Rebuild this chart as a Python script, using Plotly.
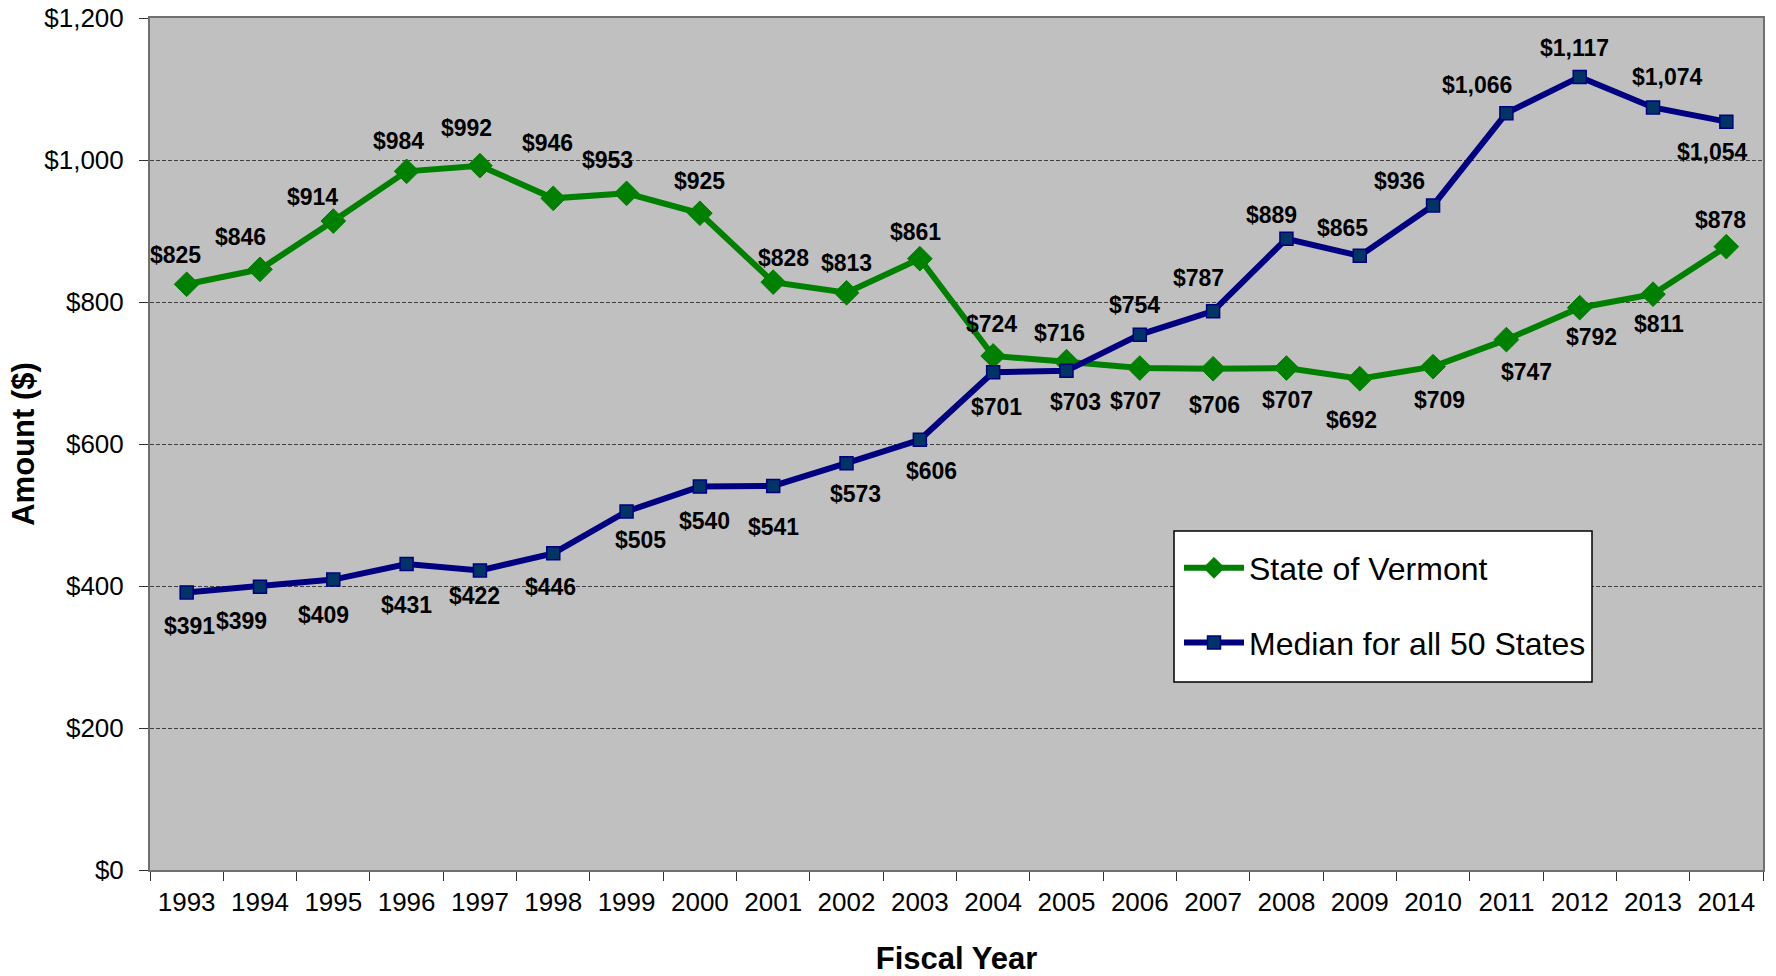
import plotly.graph_objects as go

years = [str(y) for y in range(1993, 2015)]
vermont = [825, 846, 914, 984, 992, 946, 953, 925, 828, 813, 861, 724, 716, 707, 706, 707, 692, 709, 747, 792, 811, 878]
median = [391, 399, 409, 431, 422, 446, 505, 540, 541, 573, 606, 701, 703, 754, 787, 889, 865, 936, 1066, 1117, 1074, 1054]

# label offsets in pixels (dx right, dy down)
v_dx = [-11, -19, -21, -8, -13, -6, -19, 0, 10, 0, -4, -2, -7, -4, 1, 1, -8, 6, 20, 12, 6, -6]
v_dy = [-29, -32, -24, -30, -38, -55, -33, -32, -24, -30, -27, -32, -29, 33, 36, 32, 41, 33, 32, 29, 30, -27]
m_dx = [3, -18, -10, 0, -5, -3, 14, 5, 0, 9, 12, 3, 9, -5, -15, -15, -17, -34, -29, -5, 14, -14]
m_dy = [34, 34, 35, 41, 26, 34, 29, 34, 41, 31, 31, 35, 31, -30, -33, -24, -28, -24, -28, -29, -30, 30]

FONT = "Liberation Sans, Arial, sans-serif"
GREEN = "#008000"
NAVY = "#000080"
PW = 1613  # plot width in px

fig = go.Figure()
fig.add_trace(go.Scatter(
    x=years, y=vermont, name="State of Vermont", mode="lines+markers",
    legendgroup="a",
    line=dict(color=GREEN, width=6),
    marker=dict(symbol="diamond", size=19, color=GREEN, line=dict(color=GREEN, width=1)),
))
fig.add_trace(go.Scatter(
    x=years, y=median, name="Median for all 50 States", mode="lines+markers",
    legendgroup="b",
    line=dict(color=NAVY, width=6),
    marker=dict(symbol="square", size=13, color="#003366", line=dict(color=NAVY, width=1.5)),
))

annotations = []
for vals, dxs, dys in ((vermont, v_dx, v_dy), (median, m_dx, m_dy)):
    for i, (v, dx, dy) in enumerate(zip(vals, dxs, dys)):
        annotations.append(dict(
            x=i, y=v, xref="x", yref="y", text="<b>$" + format(v, ",") + "</b>",
            showarrow=False, xanchor="center", yanchor="middle",
            xshift=dx, yshift=-dy,
            font=dict(family=FONT, size=23, color="black"),
        ))

fig.update_layout(
    width=1776, height=976,
    margin=dict(l=150, r=1776 - 150 - PW, t=18, b=106, autoexpand=False),
    paper_bgcolor="white",
    plot_bgcolor="#C0C0C0",
    font=dict(family=FONT, color="black"),
    showlegend=True,
    legend=dict(
        x=(1179 - 150) / PW, y=0.3104, xanchor="left", yanchor="middle",
        bgcolor="rgba(0,0,0,0)", borderwidth=0,
        font=dict(family=FONT, size=32, color="black"),
        itemwidth=60, tracegroupgap=30, traceorder="grouped",
    ),
    annotations=annotations,
    shapes=[dict(
        type="rect", xref="paper", yref="paper",
        x0=(1174 - 150) / PW, x1=(1592 - 150) / PW,
        y0=(870 - 682) / 852, y1=(870 - 531) / 852,
        fillcolor="white", line=dict(color="black", width=1.5), layer="above",
    )],
)

fig.update_xaxes(
    type="category", range=[-0.5, 21.5], automargin=False,
    tickson="boundaries", ticks="outside", ticklen=9, tickcolor="#333",
    showgrid=False, showline=True, linecolor="#707070", linewidth=2, mirror=True,
    tickfont=dict(family=FONT, size=26, color="black"),
    ticklabelstandoff=8, ticklabeloverflow="allow",
    title=dict(text="<b>Fiscal Year</b>", font=dict(family=FONT, size=31, color="black"), standoff=31),
)
fig.update_yaxes(
    range=[0, 1200], dtick=200, tickprefix="$", tickformat=",d", automargin=False,
    ticks="outside", ticklen=9, tickcolor="#333",
    showgrid=True, gridcolor="#404040", gridwidth=1, griddash="4px,2px",
    zeroline=False,
    showline=True, linecolor="#707070", linewidth=2, mirror=True,
    tickfont=dict(family=FONT, size=26, color="black"),
    ticklabelstandoff=10, ticklabeloverflow="allow",
    title=dict(text="<b>Amount ($)</b>", font=dict(family=FONT, size=31, color="black"), standoff=0),
)

fig.write_html(
    "out.html",
    config={"displayModeBar": False},
    post_script="document.body.style.margin='0';",
)
